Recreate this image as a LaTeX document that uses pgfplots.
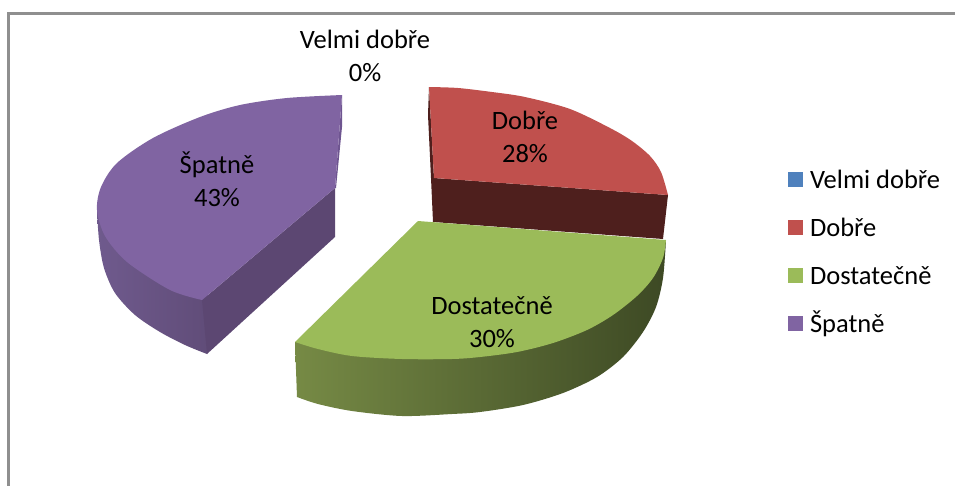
\documentclass[border=0pt]{standalone}
\usepackage{pgfplots}
\pgfplotsset{compat=1.18}
\usepackage{fontspec}
\setmainfont{Carlito}
\definecolor{cblue}{HTML}{4F81BD}
\definecolor{cred}{HTML}{C0504D}
\definecolor{cgreen}{HTML}{9BBB59}
\definecolor{cpurple}{HTML}{8064A2}
\definecolor{framegray}{HTML}{8F8F8F}
\definecolor{pwa}{HTML}{6F5A8D}
\definecolor{pwb}{HTML}{604C78}
\definecolor{pdark}{HTML}{5C4772}
\definecolor{psliver}{HTML}{6E5590}
\definecolor{rdark}{HTML}{4E1F1D}
\definecolor{gwa}{HTML}{768A45}
\definecolor{gwb}{HTML}{47562A}
\definecolor{gwc}{HTML}{3D4924}
\begin{document}
\begin{tikzpicture}
\begin{axis}[
  name=ax,
  width=955pt,height=485pt,scale only axis,
  xmin=0,xmax=955,ymin=0,ymax=485,y dir=reverse,
  hide axis,
  no markers,
  every axis plot/.append style={forget plot},
  legend style={at={(axis cs:788,171)},anchor=north west,draw=none,fill=none,
    font=\fontsize{26.5}{30}\selectfont,row sep=25.3pt,column sep=7pt,inner sep=0pt,outer sep=0pt,
    nodes={text height=17pt,text depth=6pt,inner sep=0pt,anchor=base west}},
  legend cell align=left,
  legend image code/.code={\path[#1,draw=none] (0pt,1.5pt) rectangle (15pt,16.5pt);},
]
% frame
\addplot[framegray,line width=3pt] coordinates {(8,490) (8,13) (960,13)};
% purple wall
\addplot[draw=none,smooth,left color=pwa,right color=pwb] coordinates {
(97,210) (99,240) (104,268) (115,293) (135,315) (160,332) (185,345) (207,354)} -- (axis cs:212,300) -- (axis cs:150,230) -- cycle;
\addplot[draw=none,fill=pdark] coordinates {(202,300) (335,188) (335,237) (207,354)} --cycle;
\addplot[draw=none,fill=psliver] coordinates {(342,95) (342,127) (336,188) (335,188)} --cycle;
% purple top
\addplot[draw=none,smooth,fill=cpurple] coordinates {
(342,95) (287,98) (240,105) (200,117) (153,138) (117,163) (101,187) (97,210) (105,236) (127,262) (170,290) (202,300)} -- (axis cs:335,188) -- cycle;
% red wall
\addplot[draw=none,fill=rdark] coordinates {(429,87) (428,115) (431,178) (433,222) (663,239) (668,195) (434,178)} --cycle;
% red top
\addplot[draw=none,smooth,fill=cred] coordinates {
(429,87) (458,88) (492,92) (525,97) (570,109) (610,128) (632,141) (650,156) (661,172) (668,195)} -- (axis cs:434,178) -- cycle;
% green wall
\addplot[draw=none,smooth,left color=gwa,middle color=gwb,right color=gwc] coordinates {
(297,397) (318,404) (352,411) (402,416) (452,414) (480,412) (523,405) (563,393) (597,377) (623,357) (643,332) (656,307) (663,278) (666,240)} -- (axis cs:480,300) -- (axis cs:295,342) -- cycle;
% green top
\addplot[draw=none,smooth,fill=cgreen] coordinates {
(666,240) (663,258) (653,278) (637,296) (613,315) (587,330) (553,343) (517,352) (480,357) (452,359) (402,359) (352,356) (318,349) (295,342)} -- (axis cs:418,221) -- cycle;
% legend
\addlegendimage{fill=cblue}\addlegendentry{Velmi dobře}
\addlegendimage{fill=cred}\addlegendentry{Dobře}
\addlegendimage{fill=cgreen}\addlegendentry{Dostatečně}
\addlegendimage{fill=cpurple}\addlegendentry{Špatně}
% data labels
\node[font=\fontsize{26.5}{33}\selectfont,align=center] at (axis cs:365,56) {Velmi dobře\\0\%};
\node[font=\fontsize{26.5}{33}\selectfont,align=center] at (axis cs:525,137) {Dobře\\28\%};
\node[font=\fontsize{26.5}{33}\selectfont,align=center] at (axis cs:217,179) {Špatně\\43\%};
\node[font=\fontsize{26.5}{33}\selectfont,align=center] at (axis cs:492,322) {Dostatečně\\30\%};
\end{axis}
\pgfresetboundingbox
\path[use as bounding box] (ax.south west) rectangle (ax.north east);
\end{tikzpicture}
\end{document}
